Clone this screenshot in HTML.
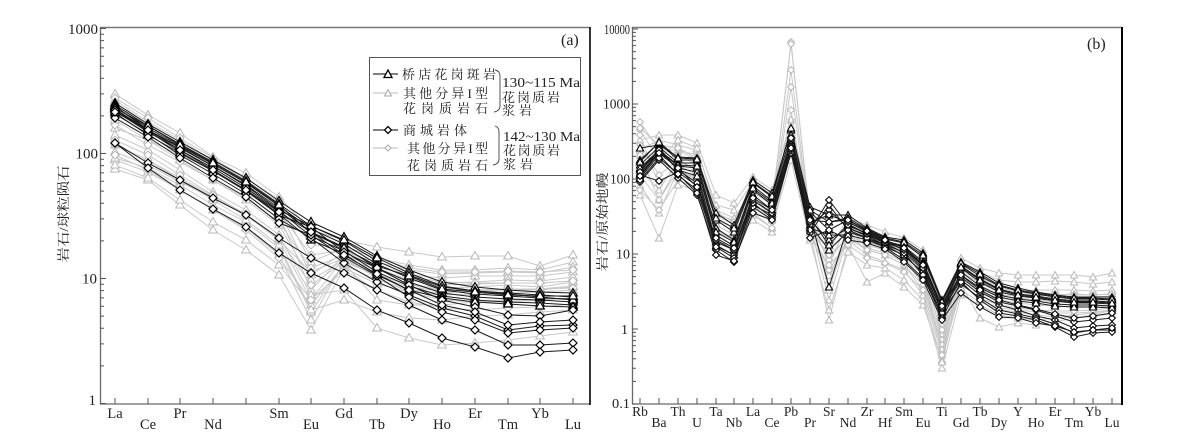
<!DOCTYPE html>
<html><head><meta charset="utf-8"><style>
html,body{margin:0;padding:0;background:#fff;}
svg{display:block;}
text{font-family:"Liberation Serif","Noto Serif CJK SC",serif;fill:#222;}
.cj{font-family:"Liberation Serif","Noto Serif CJK SC",serif;}
.lt{fill:none;stroke:#c8c8c8;stroke-width:1;}
.dk{fill:none;stroke:#1a1a1a;stroke-width:1;}
</style></head><body>
<svg width="1183" height="448" viewBox="0 0 1183 448" xmlns="http://www.w3.org/2000/svg">
<defs>
<marker id="tD" markerUnits="userSpaceOnUse" markerWidth="14" markerHeight="14" refX="7" refY="7" overflow="visible"><path d="M7,2.5 L11.3,10 L2.7,10 Z" fill="#fff" stroke="#000" stroke-width="1.2"/></marker>
<marker id="tL" markerUnits="userSpaceOnUse" markerWidth="14" markerHeight="14" refX="7" refY="7" overflow="visible"><path d="M7,2.5 L11.3,10 L2.7,10 Z" fill="#fff" stroke="#b8b8b8" stroke-width="1"/></marker>
<marker id="dD" markerUnits="userSpaceOnUse" markerWidth="14" markerHeight="14" refX="7" refY="7" overflow="visible"><path d="M7,3 L11,7 L7,11 L3,7 Z" fill="#fff" stroke="#000" stroke-width="1.2"/></marker>
<marker id="dL" markerUnits="userSpaceOnUse" markerWidth="14" markerHeight="14" refX="7" refY="7" overflow="visible"><path d="M7,3 L11,7 L7,11 L3,7 Z" fill="#fff" stroke="#b8b8b8" stroke-width="1"/></marker>
<marker id="stD" markerUnits="userSpaceOnUse" markerWidth="12" markerHeight="12" refX="6" refY="6" overflow="visible"><path d="M6,2.5 L9.6,9 L2.4,9 Z" fill="#fff" stroke="#000" stroke-width="1.1"/></marker>
<marker id="stL" markerUnits="userSpaceOnUse" markerWidth="12" markerHeight="12" refX="6" refY="6" overflow="visible"><path d="M6,2.5 L9.6,9 L2.4,9 Z" fill="#fff" stroke="#b8b8b8" stroke-width="1"/></marker>
<marker id="sdD" markerUnits="userSpaceOnUse" markerWidth="12" markerHeight="12" refX="6" refY="6" overflow="visible"><path d="M6,2.6 L9.4,6 L6,9.4 L2.6,6 Z" fill="#fff" stroke="#000" stroke-width="1.1"/></marker>
<marker id="sdL" markerUnits="userSpaceOnUse" markerWidth="12" markerHeight="12" refX="6" refY="6" overflow="visible"><path d="M6,2.6 L9.4,6 L6,9.4 L2.6,6 Z" fill="#fff" stroke="#b8b8b8" stroke-width="1"/></marker>
</defs>

<!-- ============ PANEL A ============ -->
<g>
<!-- light triangles -->
<g class="lt" marker-start="url(#tL)" marker-mid="url(#tL)" marker-end="url(#tL)">
<polyline points="115,94 148,115 180,133 213,157 246,173 279,197 311,230 344,240 377,247 409,252 442,257 475,256 508,256 540,266 573,255"/>
<polyline points="115,100 148,122 180,140 213,160 246,180 279,203 311,262 344,248 377,258 409,265 442,270 475,270 508,268 540,270 573,262"/>
<polyline points="115,105 148,125 180,145 213,165 246,185 279,210 311,275 344,252 377,262 409,270 442,274 475,273 508,272 540,273 573,267"/>
<polyline points="115,128 148,140 180,155 213,170 246,190 279,215 311,290 344,255 377,266 409,275 442,278 475,276 508,276 540,276 573,272"/>
<polyline points="115,152 148,165 180,182 213,198 246,215 279,240 311,300 344,258 377,270 409,280 442,283 475,282 508,280 540,281 573,277"/>
<polyline points="115,160 148,172 180,190 213,210 246,228 279,255 311,320 344,262 377,275 409,285 442,288 475,287 508,285 540,287 573,282"/>
<polyline points="115,169 148,180 180,205 213,230 246,250 279,275 311,330 344,268 377,284 409,292 442,295 475,294 508,293 540,292 573,290"/>
<polyline points="115,165 148,178 180,200 213,222 246,240 279,265 311,305 344,265 377,280 409,290 442,293 475,291 508,290 540,290 573,287"/>
<polyline points="115,158 148,168 180,185 213,205 246,222 279,248 311,312 344,263 377,300 409,305 442,305 475,302 508,300 540,300 573,298"/>
<polyline points="115,120 148,140 180,160 213,180 246,200 279,225 311,280 344,260 377,276 409,287 442,291 475,290 508,289 540,289 573,286"/>
<polyline points="115,135 148,150 180,170 213,192 246,210 279,235 311,295 344,290 377,328 409,338 442,345 475,343 508,340 540,336 573,332"/>
<polyline points="115,145 148,160 180,180 213,200 246,220 279,245 311,310 344,300 377,312 409,318 442,320 475,316 508,315 540,312 573,310"/>
</g>
<!-- light diamonds -->
<g class="lt" marker-start="url(#dL)" marker-mid="url(#dL)" marker-end="url(#dL)">
<polyline points="115,98 148,118 180,138 213,158 246,178 279,200 311,245 344,246 377,258 409,268 442,272 475,272 508,271 540,272 573,270"/>
<polyline points="115,125 148,145 180,162 213,180 246,198 279,222 311,268 344,255 377,268 409,280 442,285 475,284 508,283 540,283 573,281"/>
<polyline points="115,145 148,160 180,178 213,196 246,214 279,238 311,285 344,262 377,274 409,285 442,290 475,290 508,290 540,289 573,288"/>
<polyline points="115,110 148,130 180,150 213,168 246,188 279,212 311,255 344,250 377,265 409,276 442,282 475,283 508,283 540,283 573,281"/>
<polyline points="115,155 148,170 180,190 213,210 246,230 279,258 311,300 344,270 377,290 409,302 442,308 475,310 508,308 540,307 573,304"/>
<polyline points="115,140 148,155 180,175 213,195 246,215 279,240 311,272 344,258 377,278 409,292 442,300 475,302 508,302 540,300 573,298"/>
</g>
<!-- dark triangles -->
<g class="dk" marker-start="url(#tD)" marker-mid="url(#tD)" marker-end="url(#tD)">
<polyline points="115,103 148,124 180,142 213,160 246,178 279,201 311,222 344,237 377,256 409,270 442,282 475,287 508,290 540,292 573,293"/>
<polyline points="115,105 148,126 180,144 213,162 246,181 279,204 311,226 344,241 377,261 409,275 442,287 475,291 508,293 540,295 573,297"/>
<polyline points="115,107 148,128 180,146 213,164 246,183 279,206 311,229 344,244 377,264 409,278 442,290 475,294 508,296 540,298 573,299"/>
<polyline points="115,109 148,130 180,148 213,166 246,185 279,208 311,232 344,247 377,268 409,282 442,293 475,297 508,299 540,300 573,302"/>
<polyline points="115,111 148,132 180,150 213,168 246,188 279,211 311,236 344,251 377,272 409,286 442,296 475,300 508,302 540,303 573,305"/>
<polyline points="115,106 148,130 180,147 213,166 246,186 279,210 311,226 344,240 377,258 409,273 442,286 475,291 508,294 540,297 573,300"/>
<polyline points="115,113 148,135 180,153 213,171 246,190 279,214 311,240 344,254 377,275 409,290 442,298 475,302 508,304 540,306 573,307"/>
<polyline points="115,108 148,126 180,145 213,163 246,182 279,205 311,233 344,248 377,266 409,276 442,289 475,292 508,295 540,296 573,296"/>
</g>
<!-- dark diamonds -->
<g class="dk" marker-start="url(#dD)" marker-mid="url(#dD)" marker-end="url(#dD)">
<polyline points="115,143 148,163 180,180 213,198 246,215 279,238 311,258 344,273 377,290 409,305 442,320 475,330 508,345 540,345 573,343"/>
<polyline points="115,143 148,168 180,190 213,209 246,227 279,253 311,273 344,288 377,310 409,323 442,338 475,347 508,358 540,352 573,350"/>
<polyline points="115,110 148,131 180,152 213,171 246,191 279,215 311,227 344,252 377,268 409,285 442,300 475,307 508,315 540,316 573,310"/>
<polyline points="115,114 148,134 180,155 213,174 246,194 279,219 311,238 344,263 377,282 409,295 442,308 475,316 508,330 540,326 573,325"/>
<polyline points="115,118 148,137 180,158 213,178 246,197 279,223 311,235 344,257 377,276 409,297 442,312 475,320 508,333 540,330 573,328"/>
<polyline points="115,112 148,130 180,150 213,170 246,190 279,212 311,232 344,255 377,274 409,290 442,305 475,312 508,325 540,322 573,320"/>
</g>

<!-- axes A -->
<line x1="100" y1="27.5" x2="590" y2="27.5" stroke="#7a7a7a" stroke-width="1.5"/>
<line x1="100.5" y1="27" x2="100.5" y2="404" stroke="#6a6a6a" stroke-width="1.3"/>
<line x1="100" y1="404" x2="590" y2="404" stroke="#6a6a6a" stroke-width="1.3"/>
<line x1="590" y1="27" x2="590" y2="405" stroke="#000" stroke-width="1.6"/>
<path stroke="#555" stroke-width="1" fill="none" d="M100,403.5h6 M100,278.5h6 M100,153.5h6 M100,28.5h6
M100,365.9h4 M100,343.9h4 M100,328.2h4 M100,316.1h4 M100,306.2h4 M100,297.9h4 M100,290.6h4 M100,284.2h4
M100,240.9h4 M100,218.9h4 M100,203.2h4 M100,191.1h4 M100,181.2h4 M100,172.9h4 M100,165.6h4 M100,159.2h4
M100,115.9h4 M100,93.9h4 M100,78.2h4 M100,66.1h4 M100,56.2h4 M100,47.9h4 M100,40.6h4 M100,34.2h4
M115,404v-6 M148,404v-6 M180,404v-6 M213,404v-6 M246,404v-6 M279,404v-6 M311,404v-6 M344,404v-6 M377,404v-6 M409,404v-6 M442,404v-6 M475,404v-6 M508,404v-6 M540,404v-6 M573,404v-6"/>
<g font-size="15" text-anchor="end">
<text x="98" y="34" textLength="30" lengthAdjust="spacingAndGlyphs">1000</text>
<text x="98" y="158.5">100</text>
<text x="97" y="283.5">10</text>
<text x="96" y="405">1</text>
</g>
<g font-size="14.5" text-anchor="middle">
<text x="115" y="418">La</text><text x="148" y="429">Ce</text><text x="180" y="418">Pr</text><text x="213" y="429">Nd</text>
<text x="279" y="418">Sm</text><text x="311" y="429">Eu</text><text x="344" y="418">Gd</text><text x="377" y="429">Tb</text>
<text x="409" y="418">Dy</text><text x="442" y="429">Ho</text><text x="475" y="418">Er</text><text x="508" y="429">Tm</text>
<text x="540" y="418">Yb</text><text x="573" y="429">Lu</text>
</g>
<text class="cj" font-size="13" text-anchor="middle" transform="translate(68,214) rotate(-90)" textLength="97" lengthAdjust="spacingAndGlyphs" fill="#333">岩石/球粒陨石</text>
<text x="561" y="45" font-size="16">(a)</text>

<!-- legend -->
<rect x="369.5" y="57.5" width="211" height="118" fill="#fff" stroke="#555" stroke-width="1"/>
<line x1="373" y1="74" x2="398" y2="74" stroke="#000" stroke-width="1"/>
<path d="M388,70 L392,77.5 L384,77.5 Z" fill="#fff" stroke="#000" stroke-width="1.3"/>
<line x1="373" y1="93" x2="398" y2="93" stroke="#bbb" stroke-width="1"/>
<path d="M388,89.5 L391.5,96 L384.5,96 Z" fill="#fff" stroke="#aaa" stroke-width="1"/>
<line x1="373" y1="130" x2="398" y2="130" stroke="#000" stroke-width="1"/>
<path d="M388,126.5 L391.5,130 L388,133.5 L384.5,130 Z" fill="#fff" stroke="#000" stroke-width="1.3"/>
<line x1="373" y1="148" x2="398" y2="148" stroke="#bbb" stroke-width="1"/>
<path d="M388,145 L391,148 L388,151 L385,148 Z" fill="#fff" stroke="#aaa" stroke-width="1"/>
<g class="cj" font-size="13">
<text x="402" y="79" textLength="94" lengthAdjust="spacing">桥店花岗斑岩</text>
<text x="403" y="98" textLength="85" lengthAdjust="spacing">其他分异I型</text>
<text x="403" y="113" textLength="85" lengthAdjust="spacing">花岗质岩石</text>
<text x="403" y="135" textLength="64" lengthAdjust="spacing">商城岩体</text>
<text x="407" y="153" textLength="81" lengthAdjust="spacing">其他分异I型</text>
<text x="407" y="170" textLength="81" lengthAdjust="spacing">花岗质岩石</text>
<text x="502" y="87" font-size="14" textLength="78" lengthAdjust="spacingAndGlyphs">130~115 Ma</text>
<text x="502" y="102" textLength="58" lengthAdjust="spacing">花岗质岩</text>
<text x="502" y="115" textLength="30" lengthAdjust="spacing">浆岩</text>
<text x="503" y="141" font-size="14" textLength="77" lengthAdjust="spacingAndGlyphs">142~130 Ma</text>
<text x="503" y="155" textLength="57" lengthAdjust="spacing">花岗质岩</text>
<text x="503" y="169" textLength="30" lengthAdjust="spacing">浆岩</text>
</g>
<path d="M495,70 Q500,71 500,76 L500,106 Q500,111 494,112" fill="none" stroke="#444" stroke-width="0.9"/>
<path d="M495,126 Q499,127 499,132 L499,159 Q499,164 493,165" fill="none" stroke="#444" stroke-width="0.9"/>
</g>

<!-- ============ PANEL B ============ -->
<g>
<g class="lt" marker-start="url(#stL)" marker-mid="url(#stL)" marker-end="url(#stL)">
<polyline points="640,140 659,135 678,135 697,143 716,195 734,203 753,177 772,190 791,120 810,210 829,250 848,218 867,225 885,232 904,238 923,250 942,330 961,258 980,268 999,273 1018,275 1036,275 1055,275 1074,275 1093,277 1112,273"/>
<polyline points="640,150 659,140 678,145 697,150 716,205 734,210 753,182 772,195 791,130 810,215 829,265 848,222 867,230 885,236 904,243 923,258 942,340 961,262 980,272 999,280 1018,282 1036,282 1055,281 1074,282 1093,284 1112,282"/>
<polyline points="640,160 659,150 678,150 697,155 716,215 734,220 753,188 772,205 791,135 810,220 829,280 848,228 867,240 885,245 904,252 923,275 942,350 961,270 980,282 999,290 1018,292 1036,290 1055,290 1074,290 1093,291 1112,290"/>
<polyline points="640,170 659,190 678,160 697,170 716,225 734,235 753,195 772,210 791,140 810,225 829,300 848,235 867,250 885,255 904,265 923,290 942,355 961,278 980,292 999,298 1018,300 1036,300 1055,300 1074,299 1093,300 1112,298"/>
<polyline points="640,185 659,213 678,170 697,180 716,230 734,240 753,205 772,220 791,150 810,232 829,320 848,245 867,282 885,273 904,287 923,305 942,360 961,285 980,318 999,327 1018,323 1036,325 1055,322 1074,318 1093,315 1112,310"/>
<polyline points="640,195 659,238 678,185 697,190 716,240 734,248 753,215 772,228 791,160 810,240 829,310 848,252 867,265 885,268 904,280 923,300 942,368 961,295 980,305 999,315 1018,318 1036,320 1055,318 1074,315 1093,313 1112,310"/>
<polyline points="640,155 659,160 678,140 697,148 716,210 734,218 753,190 772,200 791,128 810,218 829,290 848,232 867,245 885,250 904,258 923,285 942,345 961,276 980,287 999,295 1018,296 1036,296 1055,295 1074,294 1093,295 1112,294"/>
<polyline points="640,175 659,200 678,165 697,175 716,235 734,245 753,220 772,232 791,145 810,235 829,275 848,240 867,255 885,262 904,270 923,295 942,362 961,282 980,300 999,308 1018,310 1036,312 1055,313 1074,313 1093,312 1112,310"/>
</g>
<g class="lt" marker-start="url(#sdL)" marker-mid="url(#sdL)" marker-end="url(#sdL)">
<polyline points="640,122 659,150 678,150 697,160 716,215 734,225 753,195 772,210 791,42 810,220 829,240 848,228 867,240 885,245 904,250 923,262 942,325 961,268 980,280 999,288 1018,292 1036,295 1055,296 1074,297 1093,297 1112,296"/>
<polyline points="640,130 659,160 678,155 697,165 716,220 734,228 753,198 772,213 791,70 810,222 829,250 848,230 867,242 885,247 904,253 923,268 942,335 961,272 980,283 999,292 1018,295 1036,298 1055,299 1074,300 1093,300 1112,300"/>
<polyline points="640,145 659,175 678,160 697,170 716,225 734,235 753,200 772,215 791,87 810,225 829,260 848,235 867,245 885,250 904,258 923,275 942,340 961,277 980,288 999,296 1018,298 1036,300 1055,302 1074,303 1093,303 1112,302"/>
<polyline points="640,135 659,185 678,165 697,175 716,230 734,238 753,205 772,220 791,120 810,228 829,270 848,240 867,248 885,253 904,262 923,280 942,345 961,280 980,292 999,300 1018,303 1036,305 1055,306 1074,307 1093,307 1112,306"/>
<polyline points="640,155 659,200 678,170 697,178 716,232 734,240 753,210 772,222 791,110 810,230 829,255 848,238 867,250 885,255 904,265 923,285 942,350 961,285 980,298 999,305 1018,308 1036,310 1055,311 1074,311 1093,310 1112,308"/>
<polyline points="640,190 659,210 678,180 697,188 716,240 734,250 753,213 772,228 791,150 810,235 829,265 848,245 867,258 885,263 904,272 923,290 942,355 961,290 980,302 999,310 1018,312 1036,315 1055,317 1074,318 1093,316 1112,314"/>
<polyline points="640,128 659,145 678,148 697,158 716,212 734,222 753,192 772,205 791,44 810,218 829,245 848,226 867,238 885,243 904,248 923,260 942,330 961,266 980,278 999,286 1018,290 1036,293 1055,294 1074,295 1093,295 1112,294"/>
</g>
<g class="dk" marker-start="url(#stD)" marker-mid="url(#stD)" marker-end="url(#stD)">
<polyline points="640,148 659,145 678,157 697,158 716,213 734,225 753,180 772,193 791,130 810,207 829,215 848,215 867,228 885,237 904,240 923,253 942,300 961,262 980,272 999,283 1018,288 1036,292 1055,295 1074,297 1093,297 1112,297"/>
<polyline points="640,160 659,143 678,160 697,160 716,220 734,232 753,183 772,197 791,135 810,212 829,230 848,220 867,230 885,239 904,243 923,257 942,303 961,264 980,276 999,286 1018,291 1036,294 1055,297 1074,299 1093,299 1112,300"/>
<polyline points="640,165 659,147 678,163 697,163 716,228 734,240 753,186 772,201 791,140 810,216 829,287 848,226 867,233 885,241 904,246 923,262 942,306 961,266 980,279 999,289 1018,294 1036,296 1055,299 1074,301 1093,301 1112,302"/>
<polyline points="640,170 659,150 678,166 697,168 716,235 734,246 753,190 772,205 791,145 810,220 829,240 848,228 867,235 885,243 904,249 923,266 942,309 961,268 980,282 999,292 1018,296 1036,298 1055,301 1074,303 1093,303 1112,304"/>
<polyline points="640,174 659,152 678,168 697,172 716,242 734,250 753,195 772,210 791,150 810,225 829,250 848,232 867,238 885,245 904,252 923,270 942,312 961,272 980,286 999,295 1018,299 1036,301 1055,304 1074,305 1093,305 1112,306"/>
<polyline points="640,178 659,148 678,170 697,176 716,246 734,255 753,200 772,213 791,148 810,228 829,235 848,235 867,240 885,247 904,255 923,273 942,315 961,275 980,288 999,297 1018,301 1036,303 1055,306 1074,307 1093,307 1112,308"/>
<polyline points="640,162 659,142 678,158 697,159 716,218 734,228 753,182 772,196 791,128 810,210 829,222 848,218 867,229 885,238 904,242 923,255 942,302 961,263 980,274 999,285 1018,290 1036,293 1055,296 1074,298 1093,298 1112,299"/>
<polyline points="640,168 659,150 678,165 697,166 716,232 734,242 753,188 772,203 791,143 810,218 829,245 848,224 867,234 885,242 904,247 923,264 942,307 961,267 980,280 999,290 1018,295 1036,297 1055,300 1074,302 1093,302 1112,303"/>
</g>
<g class="dk" marker-start="url(#sdD)" marker-mid="url(#sdD)" marker-end="url(#sdD)">
<polyline points="640,175 659,181 678,172 697,186 716,245 734,255 753,205 772,215 791,145 810,225 829,210 848,228 867,236 885,245 904,256 923,272 942,310 961,280 980,295 999,305 1018,310 1036,316 1055,320 1074,328 1093,326 1112,325"/>
<polyline points="640,182 659,160 678,178 697,195 716,250 734,262 753,207 772,220 791,153 810,233 829,205 848,230 867,238 885,247 904,260 923,278 942,313 961,284 980,298 999,310 1018,314 1036,318 1055,324 1074,333 1093,330 1112,330"/>
<polyline points="640,178 659,155 678,175 697,190 716,247 734,258 753,203 772,218 791,150 810,230 829,200 848,225 867,234 885,243 904,253 923,275 942,318 961,282 980,300 999,313 1018,316 1036,320 1055,327 1074,337 1093,333 1112,332"/>
<polyline points="640,172 659,150 678,170 697,183 716,240 734,250 753,200 772,213 791,140 810,222 829,215 848,222 867,232 885,241 904,250 923,268 942,308 961,277 980,292 999,302 1018,306 1036,310 1055,316 1074,322 1093,320 1112,318"/>
<polyline points="640,180 659,158 678,174 697,193 716,255 734,261 753,213 772,220 791,148 810,238 829,230 848,240 867,243 885,249 904,262 923,280 942,320 961,293 980,307 999,317 1018,318 1036,323 1055,326 1074,332 1093,330 1112,328"/>
<polyline points="640,176 659,153 678,168 697,187 716,238 734,248 753,198 772,210 791,138 810,220 829,222 848,220 867,231 885,240 904,248 923,265 942,306 961,275 980,290 999,300 1018,305 1036,309 1055,314 1074,318 1093,316 1112,313"/>
</g>

<!-- axes B -->
<line x1="632" y1="27.5" x2="1122" y2="27.5" stroke="#7a7a7a" stroke-width="1.5"/>
<line x1="632.5" y1="27" x2="632.5" y2="404" stroke="#6a6a6a" stroke-width="1.3"/>
<line x1="632" y1="404" x2="1122" y2="404" stroke="#6a6a6a" stroke-width="1.3"/>
<line x1="1122" y1="27" x2="1122" y2="405" stroke="#000" stroke-width="2"/>
<path stroke="#555" stroke-width="1" fill="none" d="M632,404h6 M632,329h6 M632,254h6 M632,179h6 M632,104h6 M632,29h6
M632,381.4h4 M632,368.2h4 M632,358.8h4 M632,351.6h4 M632,345.6h4 M632,340.6h4 M632,336.3h4 M632,332.4h4
M632,306.4h4 M632,293.2h4 M632,283.8h4 M632,276.6h4 M632,270.6h4 M632,265.6h4 M632,261.3h4 M632,257.4h4
M632,231.4h4 M632,218.2h4 M632,208.8h4 M632,201.6h4 M632,195.6h4 M632,190.6h4 M632,186.3h4 M632,182.4h4
M632,156.4h4 M632,143.2h4 M632,133.8h4 M632,126.6h4 M632,120.6h4 M632,115.6h4 M632,111.3h4 M632,107.4h4
M632,81.4h4 M632,68.2h4 M632,58.8h4 M632,51.6h4 M632,45.6h4 M632,40.6h4 M632,36.3h4 M632,32.4h4
M640,404v-6 M659,404v-6 M678,404v-6 M697,404v-6 M716,404v-6 M734,404v-6 M753,404v-6 M772,404v-6 M791,404v-6 M810,404v-6 M829,404v-6 M848,404v-6 M867,404v-6 M885,404v-6 M904,404v-6 M923,404v-6 M942,404v-6 M961,404v-6 M980,404v-6 M999,404v-6 M1018,404v-6 M1036,404v-6 M1055,404v-6 M1074,404v-6 M1093,404v-6 M1112,404v-6"/>
<g font-size="14" text-anchor="end">
<text x="630" y="34" textLength="26" lengthAdjust="spacingAndGlyphs">10000</text>
<text x="630" y="108.5" textLength="27" lengthAdjust="spacingAndGlyphs">1000</text>
<text x="630" y="183.5" textLength="20" lengthAdjust="spacingAndGlyphs">100</text>
<text x="630" y="258.5">10</text>
<text x="628" y="334">1</text>
<text x="630" y="408" textLength="18" lengthAdjust="spacingAndGlyphs">0.1</text>
</g>
<g font-size="13.5" text-anchor="middle">
<text x="640" y="416">Rb</text><text x="659" y="427">Ba</text><text x="678" y="416">Th</text><text x="697" y="427">U</text>
<text x="716" y="416">Ta</text><text x="734" y="427">Nb</text><text x="753" y="416">La</text><text x="772" y="427">Ce</text>
<text x="791" y="416">Pb</text><text x="810" y="427">Pr</text><text x="829" y="416">Sr</text><text x="848" y="427">Nd</text>
<text x="867" y="416">Zr</text><text x="885" y="427">Hf</text><text x="904" y="416">Sm</text><text x="923" y="427">Eu</text>
<text x="942" y="416">Ti</text><text x="961" y="427">Gd</text><text x="980" y="416">Tb</text><text x="999" y="427">Dy</text>
<text x="1018" y="416">Y</text><text x="1036" y="427">Ho</text><text x="1055" y="416">Er</text><text x="1074" y="427">Tm</text>
<text x="1093" y="416">Yb</text><text x="1112" y="427">Lu</text>
</g>
<text class="cj" font-size="13" text-anchor="middle" transform="translate(607,222) rotate(-90)" textLength="99" lengthAdjust="spacingAndGlyphs" fill="#333">岩石/原始地幔</text>
<text x="1087" y="49" font-size="16">(b)</text>
</g>
</svg>
</body></html>
